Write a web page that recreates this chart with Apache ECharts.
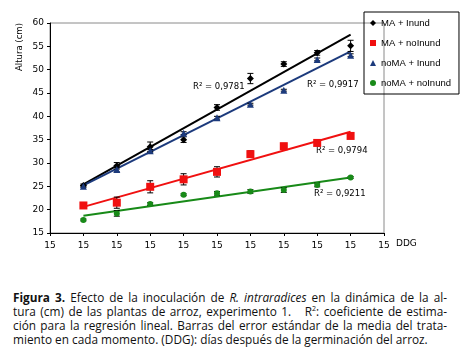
<!DOCTYPE html>
<html>
<head>
<meta charset="utf-8">
<script src="https://cdn.jsdelivr.net/npm/echarts@6/dist/echarts.min.js"></script>
<style>
  html, body { margin: 0; padding: 0; background: #fff; }
  #chart { position: absolute; left: 0; top: 0; width: 467px; height: 280px; }
  .caption {
    position: absolute; left: 13px; top: 290px; width: 434px;
    font-family: "Open Sans", sans-serif; font-size: 11.8px; line-height: 14px;
    letter-spacing: 0; color: #111;
  }
  .caption div { text-align: justify; text-align-last: justify; white-space: nowrap; }
  .caption div.last { text-align-last: left; }
</style>
</head>
<body>
<div id="chart"></div>
<div class="caption">
  <div><b>Figura 3.</b> Efecto de la inoculación de <i>R. intraradices</i> en la dinámica de la al-</div>
  <div>tura (cm) de las plantas de arroz, experimento 1. &nbsp; R<sup style="font-size:7px;line-height:0">2</sup>: coeficiente de estima-</div>
  <div>ción para la regresión lineal. Barras del error estándar de la media del trata-</div>
  <div class="last">miento en cada momento. (DDG): días después de la germinación del arroz.</div>
</div>
<script>
// x positions of the sampling moments (all labelled "15" on the original axis)
const xPos = [1, 2, 3, 4, 5, 6, 7, 8, 9]
const xTickLabels = ['15', '15', '15', '15', '15', '15', '15', '15', '15', '15', '15']

const maInund = [25.2, 29.4, 33.5, 35.0, 41.9, 48.1, 51.2, 53.6, 55.1]
const maInundErr = [0.3, 0.7, 1.0, 0.6, 0.6, 1.1, 0.5, 0.5, 1.2]
const maNoInund = [20.9, 21.5, 24.9, 26.5, 28.1, 31.9, 33.6, 34.3, 35.8]
const maNoInundErr = [0.5, 1.2, 1.3, 1.2, 1.1, 0.7, 0.6, 0.3, 0.3]
const noMaInund = [25.0, 28.6, 32.6, 36.4, 39.7, 42.6, 45.6, 52.2, 53.1]
const noMaInundErr = [0.2, 0.5, 0.3, 0.3, 0.3, 0.2, 0.2, 0.3, 0.3]
const noMaNoInund = [17.8, 19.2, 21.2, 23.2, 23.5, 23.9, 24.2, 25.3, 26.9]
const noMaNoInundErr = [0.2, 0.6, 0.3, 0.2, 0.4, 0.4, 0.5, 0.4, 0.2]

// fitted trend lines, start / end values
const trendX = [1, 9]
const maInundTrend = [25.4, 57.5]
const maNoInundTrend = [20.6, 36.7]
const noMaInundTrend = [25.2, 53.9]
const noMaNoInundTrend = [18.7, 26.9]

const r2Labels = ['R² = 0,9781', 'R² = 0,9917', 'R² = 0,9794', 'R² = 0,9211']

const font = 'DejaVu Sans'
const chart = echarts.init(document.getElementById('chart'), null, { renderer: 'canvas' })

const pts = (ys) => xPos.map((x, i) => [x, ys[i]])
const trend = (ys) => trendX.map((x, i) => [x, ys[i]])
const errData = (ys, es) => xPos.map((x, i) => [x, ys[i] - es[i], ys[i] + es[i]])

const errorBars = (name, ys, es) => ({
  type: 'custom',
  name: name + ' err',
  data: errData(ys, es),
  z: 4,
  silent: true,
  renderItem: (params, api) => {
    const lo = api.coord([api.value(0), api.value(1)])
    const hi = api.coord([api.value(0), api.value(2)])
    const w = 3
    const style = { stroke: '#000', lineWidth: 1 }
    return {
      type: 'group',
      children: [
        { type: 'line', shape: { x1: lo[0], y1: lo[1], x2: hi[0], y2: hi[1] }, style },
        { type: 'line', shape: { x1: lo[0] - w, y1: lo[1], x2: lo[0] + w, y2: lo[1] }, style },
        { type: 'line', shape: { x1: hi[0] - w, y1: hi[1], x2: hi[0] + w, y2: hi[1] }, style },
      ],
    }
  },
})

const trendLine = (ys, color) => ({
  type: 'line',
  data: trend(ys),
  symbol: 'none',
  silent: true,
  z: 3,
  lineStyle: { color, width: 2 },
})

const scatter = (name, ys, symbol, size, color) => ({
  type: 'scatter',
  name,
  data: pts(ys),
  symbol,
  symbolSize: size,
  z: 5,
  itemStyle: { color, opacity: 1 },
})

chart.setOption({
  animation: false,
  textStyle: { fontFamily: font },
  grid: {
    left: 50, right: 83, top: 23, bottom: 47,
    outerBoundsMode: 'none', containLabel: false,
    show: true, borderColor: '#8a8a8a', borderWidth: 1,
  },
  legend: {
    orient: 'vertical',
    left: 364,
    top: 12,
    width: 90,
    padding: [6, 8, 6, 6],
    itemGap: 10,
    itemWidth: 6,
    itemHeight: 6,
    borderColor: '#000',
    borderWidth: 1,
    textStyle: { fontFamily: 'Liberation Sans', fontSize: 9.5, color: '#000' },
    data: [
      { name: 'MA + Inund', icon: 'diamond' },
      { name: 'MA + noInund', icon: 'rect' },
      { name: 'noMA + Inund', icon: 'triangle' },
      { name: 'noMA + noInund', icon: 'circle' },
    ],
  },
  xAxis: {
    type: 'value',
    min: 0,
    max: 10,
    interval: 1,
    name: 'DDG',
    nameGap: 12,
    nameTextStyle: { fontSize: 9, color: '#000', verticalAlign: 'top', padding: [6, 0, 0, 0] },
    axisLine: { lineStyle: { color: '#000', width: 1 } },
    axisTick: { show: true, length: 3, lineStyle: { color: '#000' } },
    axisLabel: { fontSize: 9, color: '#000', margin: 8, formatter: (v) => xTickLabels[v] },
    splitLine: { show: false },
  },
  yAxis: {
    type: 'value',
    min: 15,
    max: 60,
    interval: 5,
    axisLine: { show: true, lineStyle: { color: '#000', width: 1 } },
    axisTick: { show: true, length: 3, lineStyle: { color: '#000' } },
    axisLabel: { fontSize: 9, color: '#000', margin: 6 },
    splitLine: { show: false },
  },
  graphic: [
    { type: 'text', x: 20, y: 47, rotation: Math.PI / 2, style: { text: 'Altura (cm)', font: '8.5px ' + font, fill: '#000', align: 'center', verticalAlign: 'middle' } },
    { type: 'text', left: 193, top: 82, style: { text: r2Labels[0], font: '8.5px ' + font, fill: '#000' } },
    { type: 'text', left: 307, top: 80, style: { text: r2Labels[1], font: '8.5px ' + font, fill: '#000' } },
    { type: 'text', left: 316, top: 146, style: { text: r2Labels[2], font: '8.5px ' + font, fill: '#000' } },
    { type: 'text', left: 314, top: 189, style: { text: r2Labels[3], font: '8.5px ' + font, fill: '#000' } },
  ],
  series: [
    trendLine(maInundTrend, '#000000'),
    trendLine(noMaInundTrend, '#1c3a7c'),
    trendLine(maNoInundTrend, '#f01010'),
    trendLine(noMaNoInundTrend, '#188a18'),
    errorBars('MA + Inund', maInund, maInundErr),
    errorBars('MA + noInund', maNoInund, maNoInundErr),
    errorBars('noMA + Inund', noMaInund, noMaInundErr),
    errorBars('noMA + noInund', noMaNoInund, noMaNoInundErr),
    scatter('MA + Inund', maInund, 'diamond', 7, '#000000'),
    scatter('MA + noInund', maNoInund, 'rect', 8, '#f01010'),
    scatter('noMA + Inund', noMaInund, 'triangle', 7, '#1c3a7c'),
    scatter('noMA + noInund', noMaNoInund, 'circle', 6, '#188a18'),
  ],
})
</script>
</body>
</html>
